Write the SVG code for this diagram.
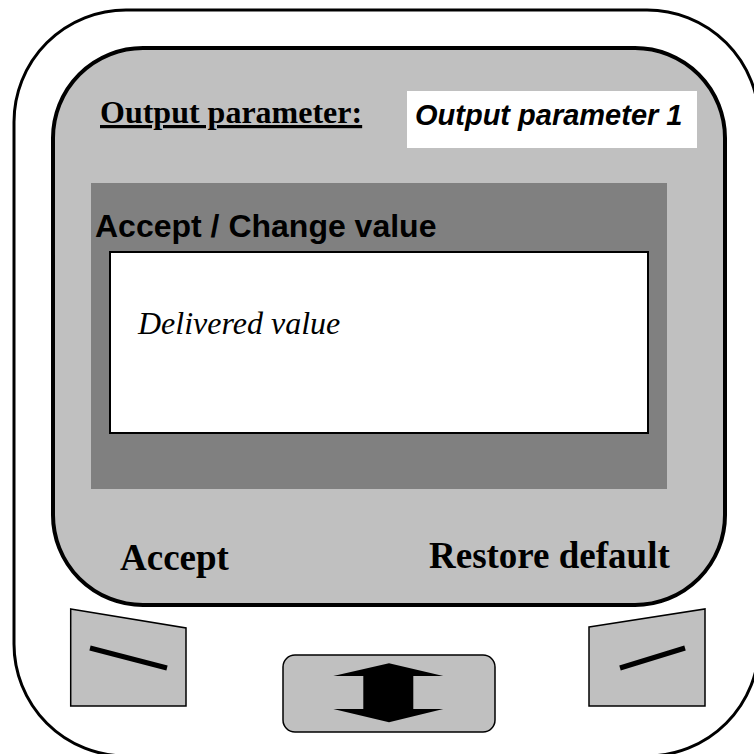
<svg xmlns="http://www.w3.org/2000/svg" width="754" height="754" viewBox="0 0 754 754">
  <style>
    .panel { fill: #c0c0c0; stroke: #000; }
    .key { fill: #c0c0c0; stroke: #000; stroke-width: 1.5; }
    .keymark { stroke: #000; stroke-width: 5; fill: none; }
    .serifb { font-family: "Liberation Serif", "Times New Roman", serif; font-weight: bold; fill: #000; }
    .sansb { font-family: "Liberation Sans", Arial, sans-serif; font-weight: bold; fill: #000; }
  </style>

  <rect width="754" height="754" fill="#fff"/>

  <!-- device housing (right and bottom edges run just past the canvas) -->
  <g id="housing">
    <rect x="14" y="10" width="745" height="746" rx="112" ry="112" fill="#fff" stroke="#000" stroke-width="3"/>
  </g>

  <!-- display screen -->
  <g id="screen">
    <rect class="panel" x="53" y="48" width="672" height="557" rx="90" ry="90" stroke-width="4"/>
    <text class="serifb" x="100" y="123" font-size="32" text-decoration="underline">Output parameter:</text>
    <rect x="407" y="91" width="290" height="57" fill="#fff"/>
    <text class="sansb" x="415" y="125" font-size="29" font-style="italic">Output parameter 1</text>
  </g>

  <!-- value dialog -->
  <g id="dialog">
    <rect x="91" y="183" width="576" height="306" fill="#808080"/>
    <text class="sansb" x="95" y="237" font-size="32">Accept / Change value</text>
    <rect x="110" y="252" width="538" height="181" fill="#fff" stroke="#000" stroke-width="2"/>
    <text x="138" y="334" font-size="32" font-style="italic" font-family="'Liberation Serif', 'Times New Roman', serif" fill="#000">Delivered value</text>
  </g>

  <!-- soft key labels -->
  <g id="label-accept">
    <text class="serifb" x="120" y="570" font-size="37">Accept</text>
  </g>
  <g id="label-restore">
    <text class="serifb" x="429" y="568" font-size="37">Restore default</text>
  </g>

  <!-- left soft key -->
  <g id="key-left">
    <polygon class="key" points="70.7,609 186,628 186,706 70.7,706"/>
    <line class="keymark" x1="90" y1="648" x2="167" y2="668"/>
  </g>

  <!-- right soft key -->
  <g id="key-right">
    <polygon class="key" points="589,627 705,609 705,706 589,706"/>
    <line class="keymark" x1="620" y1="668" x2="685" y2="648"/>
  </g>

  <!-- up/down key -->
  <g id="key-updown">
    <rect class="key" x="283" y="655" width="212" height="77" rx="12" ry="12"/>
    <polygon fill="#000" points="389,663.3 443.3,676 413.3,676 413.3,709 443.3,709 389,722.3 333.3,709 363.3,709 363.3,676 333.3,676"/>
  </g>

  <g id="connectors"></g>
</svg>
